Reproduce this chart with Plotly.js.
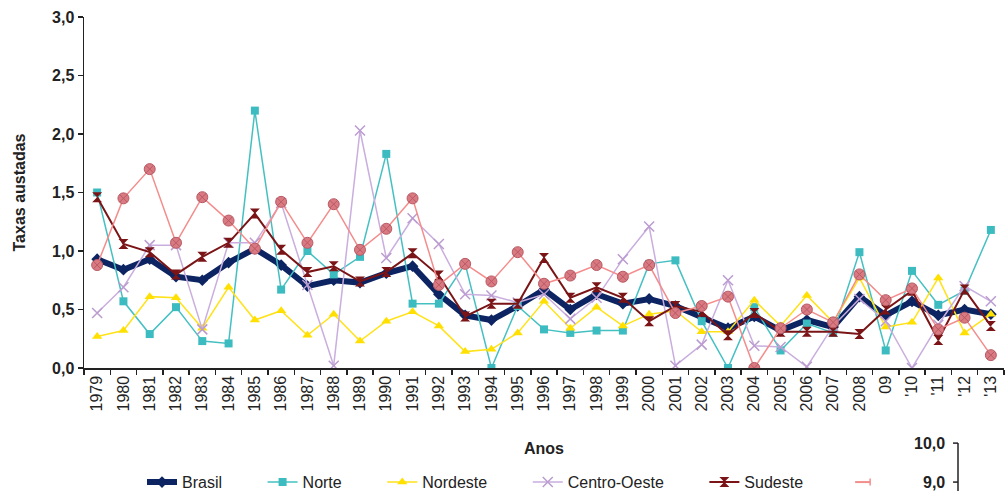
<!DOCTYPE html>
<html>
<head>
<meta charset="utf-8">
<script src="https://cdn.plot.ly/plotly-3.0.1.min.js"></script>
<style>
  html, body { margin: 0; padding: 0; background: #fff; }
  #chart { width: 1005px; height: 491px; }
</style>
</head>
<body>
<div id="chart"></div>
<script>
const years = ['1979','1980','1981','1982','1983','1984','1985','1986','1987','1988',
  '1989','1990','1991','1992','1993','1994','1995','1996','1997','1998','1999',
  '2000','2001','2002','2003','2004','2005','2006','2007','2008',
  '09',"'10","'11","'12","'13"];

const brasil = [0.93,0.84,0.93,0.78,0.75,0.90,1.02,0.88,0.70,0.75,
  0.73,0.81,0.87,0.63,0.45,0.41,0.53,0.67,0.50,0.63,0.55,
  0.59,0.53,0.44,0.34,0.44,0.32,0.41,0.35,0.61,0.45,0.57,0.45,0.50,0.46];

const norte = [1.50,0.57,0.29,0.52,0.23,0.21,2.20,0.67,1.00,0.80,
  0.95,1.83,0.55,0.55,0.89,0.00,0.53,0.33,0.30,0.32,0.32,
  0.89,0.92,0.40,0.00,0.52,0.15,0.38,0.30,0.99,0.15,0.83,0.54,0.66,1.18];

const nordeste = [0.27,0.32,0.61,0.60,0.34,0.69,0.41,0.49,0.28,0.46,
  0.23,0.40,0.48,0.36,0.14,0.16,0.30,0.57,0.34,0.52,0.36,
  0.46,0.49,0.31,0.31,0.58,0.36,0.62,0.39,0.77,0.35,0.39,0.77,0.30,0.46];

const centroOeste = [0.47,0.69,1.05,1.05,0.33,1.07,1.07,1.41,0.71,0.02,
  2.03,0.94,1.28,1.06,0.63,0.62,0.56,0.63,0.42,0.60,0.93,
  1.21,0.02,0.20,0.75,0.19,0.18,0.01,0.36,0.59,0.40,0.00,0.37,0.70,0.57];

const sudeste = [1.46,1.06,0.99,0.80,0.95,1.07,1.32,1.01,0.82,0.87,
  0.74,0.82,0.98,0.79,0.44,0.55,0.55,0.94,0.60,0.69,0.60,
  0.40,0.53,0.48,0.28,0.47,0.31,0.31,0.31,0.29,0.50,0.66,0.24,0.67,0.36];

const sul = [0.88,1.45,1.70,1.07,1.46,1.26,1.02,1.42,1.07,1.40,
  1.01,1.19,1.45,0.71,0.89,0.74,0.99,0.72,0.79,0.88,0.78,
  0.88,0.47,0.53,0.61,0.00,0.34,0.50,0.39,0.80,0.58,0.68,0.33,0.43,0.11];

const seriesNames = ['Brasil','Norte','Nordeste','Centro-Oeste','Sudeste','Sul'];
const fragmentTicks = ['10,0','9,0'];

const pad = '\u00A0'.repeat(8);

const traces = [
  {x: years, y: brasil, name: seriesNames[0] + pad, mode: 'lines+markers',
   line: {color: '#0c2462', width: 6}, marker: {symbol: 'diamond', size: 9, color: '#0c2462'}},
  {x: years, y: norte, name: seriesNames[1] + pad, mode: 'lines+markers',
   line: {color: '#45c0c2', width: 1.5}, marker: {symbol: 'square', size: 8, color: '#3cbcc0'}},
  {x: years, y: nordeste, name: seriesNames[2] + pad, mode: 'lines+markers',
   line: {color: '#ffe21a', width: 1.5}, marker: {symbol: 'triangle-up', size: 9, color: '#ffe000'}},
  {x: years, y: centroOeste, name: seriesNames[3] + pad, mode: 'lines+markers',
   line: {color: '#c9aede', width: 1.5}, marker: {symbol: 'x-thin-open', size: 10, color: '#bb9cd0', line: {width: 1.5, color: '#bb9cd0'}}},
  {x: years, y: sudeste, name: seriesNames[4] + pad, mode: 'lines+markers',
   line: {color: '#7a1416', width: 2}, marker: {symbol: 'hourglass', size: 10, color: '#7a1416'}},
  {x: years, y: sul, name: seriesNames[5], mode: 'lines+markers', showlegend: false,
   line: {color: '#f48c8c', width: 1.5}, marker: {symbol: 'circle-x', size: 11, color: '#d97a82', line: {width: 1, color: '#b95a64'}}}
];

const layout = {
  width: 1005, height: 491,
  margin: {l: 84, r: 1, t: 17, b: 123},
  paper_bgcolor: '#fff', plot_bgcolor: '#fff',
  separators: ',.',
  font: {family: 'Liberation Sans, Arial, sans-serif', color: '#222'},
  showlegend: true,
  hovermode: false,
  xaxis: {
    type: 'category', range: [-0.5, 34.5],
    showline: true, linecolor: '#222', linewidth: 1.5,
    ticks: 'outside', ticklen: 5, tickcolor: '#222', tickwidth: 1.5,
    tickson: 'boundaries',
    tickangle: -90, tickfont: {size: 16, color: '#222'},
    showgrid: false, zeroline: false,
    title: {text: '<b>Anos</b>', font: {size: 16, color: '#222'}, standoff: 32}
  },
  yaxis: {
    range: [0, 3], dtick: 0.5, tickformat: '.1f',
    showline: true, linecolor: '#222', linewidth: 1.5,
    ticks: 'outside', ticklen: 5, tickcolor: '#222', tickwidth: 1.5,
    tickfont: {size: 16, color: '#222', weight: 'bold'},
    showgrid: false, zeroline: false,
    title: {text: '<b>Taxas austadas</b>', font: {size: 16, color: '#222'}, standoff: 22}
  },
  legend: {
    orientation: 'h', xref: 'container', yref: 'container',
    x: 0.1413, xanchor: 'left', y: 0.018, yanchor: 'middle',
    font: {size: 16, color: '#222'}, bgcolor: 'rgba(0,0,0,0)', borderwidth: 0,
    traceorder: 'normal'
  },
  shapes: [
    {type: 'line', xref: 'paper', yref: 'paper', x0: 0.8382, x1: 0.8545, y0: -0.325, y1: -0.325,
     line: {color: '#f48c8c', width: 2}},
    {type: 'line', xref: 'paper', yref: 'paper', x0: 0.8545, x1: 0.8545, y0: -0.315, y1: -0.335,
     line: {color: '#f48c8c', width: 1.5}},
    {type: 'line', xref: 'paper', yref: 'paper', x0: 0.9500, x1: 0.9500, y0: -0.214, y1: -0.36,
     line: {color: '#222', width: 1.5}},
    {type: 'line', xref: 'paper', yref: 'paper', x0: 0.9446, x1: 0.9500, y0: -0.214, y1: -0.214,
     line: {color: '#222', width: 1.5}},
    {type: 'line', xref: 'paper', yref: 'paper', x0: 0.9446, x1: 0.9500, y0: -0.325, y1: -0.325,
     line: {color: '#222', width: 1.5}}
  ],
  annotations: [
    {xref: 'paper', yref: 'paper', x: 0.938, y: -0.214, xanchor: 'right', yanchor: 'middle',
     text: '<b>' + fragmentTicks[0] + '</b>', showarrow: false, font: {size: 16, color: '#222'}},
    {xref: 'paper', yref: 'paper', x: 0.938, y: -0.325, xanchor: 'right', yanchor: 'middle',
     text: '<b>' + fragmentTicks[1] + '</b>', showarrow: false, font: {size: 16, color: '#222'}}
  ]
};

Plotly.newPlot('chart', traces, layout, {displayModeBar: false, staticPlot: true});
</script>
</body>
</html>
